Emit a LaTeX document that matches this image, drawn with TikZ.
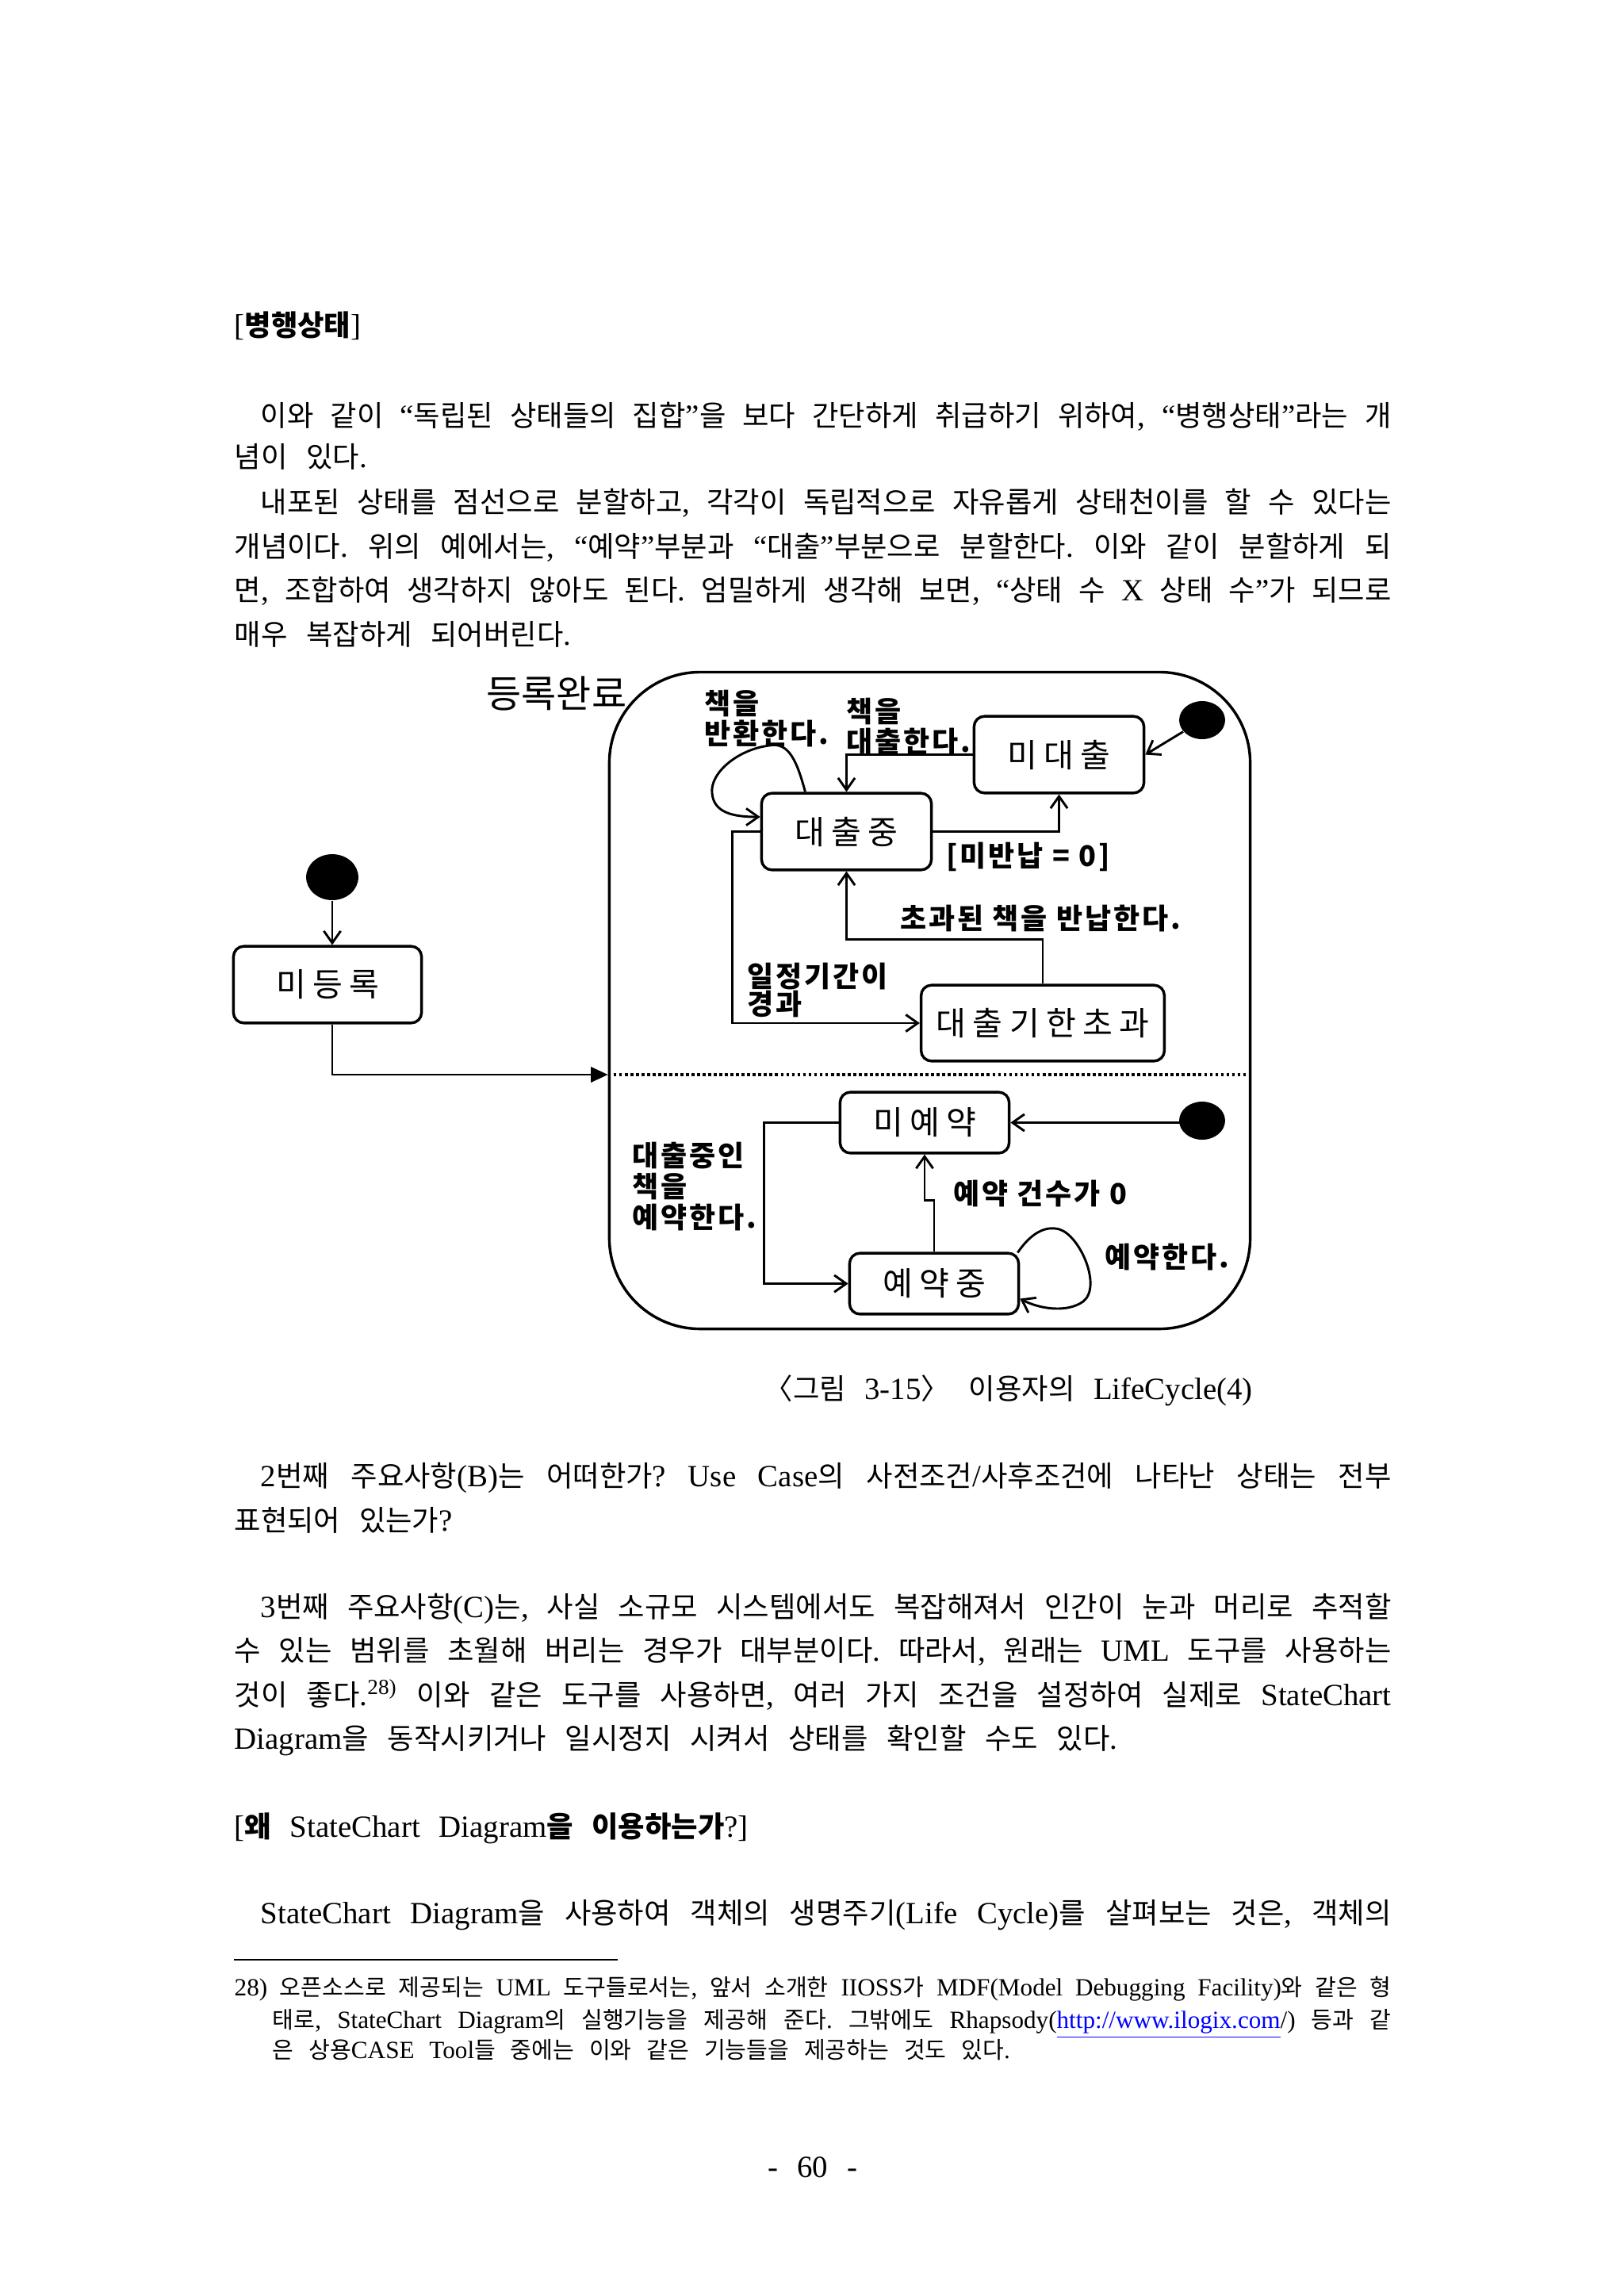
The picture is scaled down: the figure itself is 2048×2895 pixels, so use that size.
\documentclass[tikz,border=0pt]{standalone}
\usepackage{fontspec}
\setmainfont{Liberation Serif}[Scale=1.07]
\newfontfamily\krfont{Noto Sans CJK KR}
\newfontfamily\krstate{Noto Sans CJK KR}[LetterSpace=20]
\newfontfamily\krlabel{Noto Sans CJK KR}[LetterSpace=8]
\usetikzlibrary{arrows.meta, calc, positioning, shapes.geometric}
\frenchspacing

% Hangul is set in the CJK font, the rest stays in the main font
\XeTeXinterchartokenstate=1
\chardef\hanclass=10
\newcount\hancnt
\hancnt="AC00
\loop\ifnum\hancnt<"D7A4
  \XeTeXcharclass\hancnt=\hanclass
  \advance\hancnt by 1
\repeat
\XeTeXcharclass"3008=\hanclass
\XeTeXcharclass"3009=\hanclass
\def\hansw{\krfont}
\def\latsw{\rmfamily}
\XeTeXinterchartoks 0 \hanclass={\hansw}
\XeTeXinterchartoks 1 \hanclass={\hansw}
\XeTeXinterchartoks 2 \hanclass={\hansw}
\XeTeXinterchartoks 3 \hanclass={\hansw}
\XeTeXinterchartoks 4095 \hanclass={\hansw}
\XeTeXinterchartoks \hanclass 0={\latsw}
\XeTeXinterchartoks \hanclass 1={\latsw}
\XeTeXinterchartoks \hanclass 2={\latsw}
\XeTeXinterchartoks \hanclass 3={\latsw}
\XeTeXinterchartoks \hanclass 4095={\latsw}

% one pixel of the page
\newlength\pxlen
\setlength\pxlen{0.10254mm}
\newcommand\bodyfont{\fontsize{10.6}{16}\selectfont\spaceskip=6.9pt plus 4pt minus 2pt\relax}
\newcommand\headfont{\def\hansw{\bfseries\krfont}\def\latsw{\mdseries\rmfamily}\bodyfont}
\newcommand\notefont{\fontsize{8.5}{11.5}\selectfont\spaceskip=5.5pt plus 3pt minus 1.5pt\relax}
\newcommand\statefont{\def\hansw{\krstate}\def\latsw{\krstate}\fontsize{12}{14}\selectfont\krstate}
\newcommand\labelfont{\def\hansw{\krlabel}\def\latsw{\krlabel}\bfseries\fontsize{10.5}{11.3}\selectfont\krlabel}
\newcommand\jline[2]{\makebox[#1\pxlen][s]{#2}}

\begin{document}
\begin{tikzpicture}[x=0.10254mm, y=-0.10254mm,
  bodytxt/.style={anchor=base west, inner sep=0pt, font=\bodyfont},
  notetxt/.style={anchor=base west, inner sep=0pt, font=\notefont},
  stbox/.style={draw, line width=1pt, rounded corners=3.8pt, inner sep=0pt,
    minimum height=28.2pt, font=\statefont},
  initdot/.style={ellipse, fill=black, inner sep=0pt},
  lbl/.style={anchor=west, inner sep=0pt, align=left, font=\labelfont},
  conn/.style={line width=0.85pt, line join=miter,
    -{Straight Barb[length=4.4pt, width=6.2pt, line width=0.85pt]}}]

\useasboundingbox (0,0) rectangle (2048,2895);

% Text above the figure
\node[bodytxt, font=\headfont] (head1) at (295,423) {[병행상태]};
\node[bodytxt] (p1a) at (328,537) {\jline{1426}{이와 같이 “독립된 상태들의 집합”을 보다 간단하게 취급하기 위하여, “병행상태”라는 개}};
\node[bodytxt] (p1b) at (295,589) {념이 있다.};
\node[bodytxt] (p2a) at (328,646) {\jline{1426}{내포된 상태를 점선으로 분할하고, 각각이 독립적으로 자유롭게 상태천이를 할 수 있다는}};
\node[bodytxt] (p2b) at (295,702) {\jline{1459}{개념이다. 위의 예에서는, “예약”부분과 “대출”부분으로 분할한다. 이와 같이 분할하게 되}};
\node[bodytxt] (p2c) at (295,757) {\jline{1459}{면, 조합하여 생각하지 않아도 된다. 엄밀하게 생각해 보면, “상태 수 X 상태 수”가 되므로}};
\node[bodytxt] (p2d) at (295,813) {매우 복잡하게 되어버린다.};

% Composite state with its two regions
\node[stbox, minimum width=235.8pt, minimum height=241.6pt, rounded corners=33.4pt] (regdone) at (1172.5,1261.5) {};
\node[lbl, font={\def\hansw{\krfont}\fontsize{14}{16}\selectfont\krfont}] (lbldone) at (613,874) {등록완료};

% States
\node[stbox, minimum width=69.2pt] (unreg) at (413,1241.5) {미등록};
\node[stbox, minimum width=62.5pt] (notloan) at (1335.5,951.5) {미대출};
\node[stbox, minimum width=62.5pt] (onloan) at (1067.5,1048.5) {대출중};
\node[stbox, minimum width=89.5pt, minimum height=27.9pt] (overdue) at (1315,1290) {대출기한초과};
\node[stbox, minimum width=62.2pt, minimum height=22.4pt] (notres) at (1166,1415.5) {미예약};
\node[stbox, minimum width=62.2pt, minimum height=22.4pt] (resv) at (1178,1618.5) {예약중};

% Initial states
\node[initdot, minimum width=19.2pt, minimum height=16.9pt] (dotreg) at (419,1106) {};
\node[initdot, minimum width=16.9pt, minimum height=14pt] (dotloan) at (1516,908) {};
\node[initdot, minimum width=16.9pt, minimum height=14pt] (dotres) at (1516,1413) {};

% Transitions outside
\coordinate (regin) at (regdone.west |- 0,1355);
\draw[conn] (dotreg) -- (dotreg |- unreg.north);
\draw[conn, -{Triangle[length=6.3pt, width=5.6pt]}] (dotreg |- unreg.south) |- (regin);

% Region border
\draw[line width=1.1pt, dash pattern=on 1.1pt off 0.95pt] (regin) -- (regin -| regdone.east);

% Loan region
\draw[conn] (dotloan) -- (notloan.east);
\draw[conn] (notloan.west) -| (onloan.north);
\draw[conn] (onloan.east) -| (notloan.south);
\draw[conn] ($(onloan.north)+(-52,0)$) .. controls (1005,960) and (995,935) .. (970,940)
  .. controls (930,945) and (895,975) .. (898,1000)
  .. controls (900,1025) and (925,1030) .. (onloan.west |- 0,1030);
\draw[conn] (onloan.west) -- ++(-35,0) |- (overdue.west);
\draw[conn] (overdue.north) -- ++(0,-56) -| (onloan.south);

\node[lbl] (lblret) at (888,906) {책을\\반환한다.};
\node[lbl] (lblloan) at (1067,916) {책을\\대출한다.};
\node[lbl] (lblguard) at (1193,1080) {[미반납 = 0]};
\node[lbl] (lblback) at (1135,1158) {초과된 책을 반납한다.};
\node[lbl, font={\labelfont\fontsize{10.5}{10.2}\selectfont}] (lblover) at (942,1248) {일정기간이\\경과};

% Reservation region
\draw[conn] (dotres |- notres.east) -- (notres.east);
\draw[conn] (notres.west) -- ++(-94,0) |- (resv.west);
\draw[conn] (resv.north) -- ++(0,-65) -| (notres.south);
\draw[conn] ($(resv.north east)+(-3,1)$) .. controls (1300,1555) and (1318,1545) .. (1336,1550)
  .. controls (1362,1558) and (1390,1622) .. (1366,1641)
  .. controls (1345,1656) and (1310,1650) .. ($(resv.east)+(0,19)$);

\node[lbl] (lblresv) at (797,1496) {대출중인\\책을\\예약한다.};
\node[lbl] (lblzero) at (1202,1505) {예약 건수가 0};
\node[lbl] (lblagain) at (1393,1585) {예약한다.};

% Caption and text below
\node[bodytxt] (caption) at (963,1764) {〈그림 3-15〉 이용자의 LifeCycle(4)};
\node[bodytxt] (p3a) at (328,1874) {\jline{1426}{2번째 주요사항(B)는 어떠한가? Use Case의 사전조건/사후조건에 나타난 상태는 전부}};
\node[bodytxt] (p3b) at (295,1930) {표현되어 있는가?};
\node[bodytxt] (p4a) at (328,2039) {\jline{1426}{3번째 주요사항(C)는, 사실 소규모 시스템에서도 복잡해져서 인간이 눈과 머리로 추적할}};
\node[bodytxt] (p4b) at (295,2094) {\jline{1459}{수 있는 범위를 초월해 버리는 경우가 대부분이다. 따라서, 원래는 UML 도구를 사용하는}};
\node[bodytxt] (p4c) at (295,2150) {\jline{1459}{것이 좋다.\textsuperscript{28)} 이와 같은 도구를 사용하면, 여러 가지 조건을 설정하여 실제로 StateChart}};
\node[bodytxt] (p4d) at (295,2205) {Diagram을 동작시키거나 일시정지 시켜서 상태를 확인할 수도 있다.};
\node[bodytxt, font=\headfont] (head2) at (295,2316) {[왜 StateChart Diagram을 이용하는가?]};
\node[bodytxt] (p5a) at (328,2425) {\jline{1426}{StateChart Diagram을 사용하여 객체의 생명주기(Life Cycle)를 살펴보는 것은, 객체의}};

% Footnote
\draw[line width=0.4pt] (295,2471) -- (779,2471);
\node[notetxt] (fn1) at (295,2516) {\jline{1459}{28) 오픈소스로 제공되는 UML 도구들로서는, 앞서 소개한 IIOSS가 MDF(Model Debugging Facility)와 같은 형}};
\node[notetxt] (fn2) at (343,2557) {\jline{1411}{태로, StateChart Diagram의 실행기능을 제공해 준다. 그밖에도 Rhapsody({\color{blue}\underline{http://www.ilogix.com}}/) 등과 같}};
\node[notetxt] (fn3) at (343,2595) {은 상용CASE Tool들 중에는 이와 같은 기능들을 제공하는 것도 있다.};

\node[bodytxt, anchor=base] (pagenum) at (1025,2745) {- 60 -};

\end{tikzpicture}
\end{document}
